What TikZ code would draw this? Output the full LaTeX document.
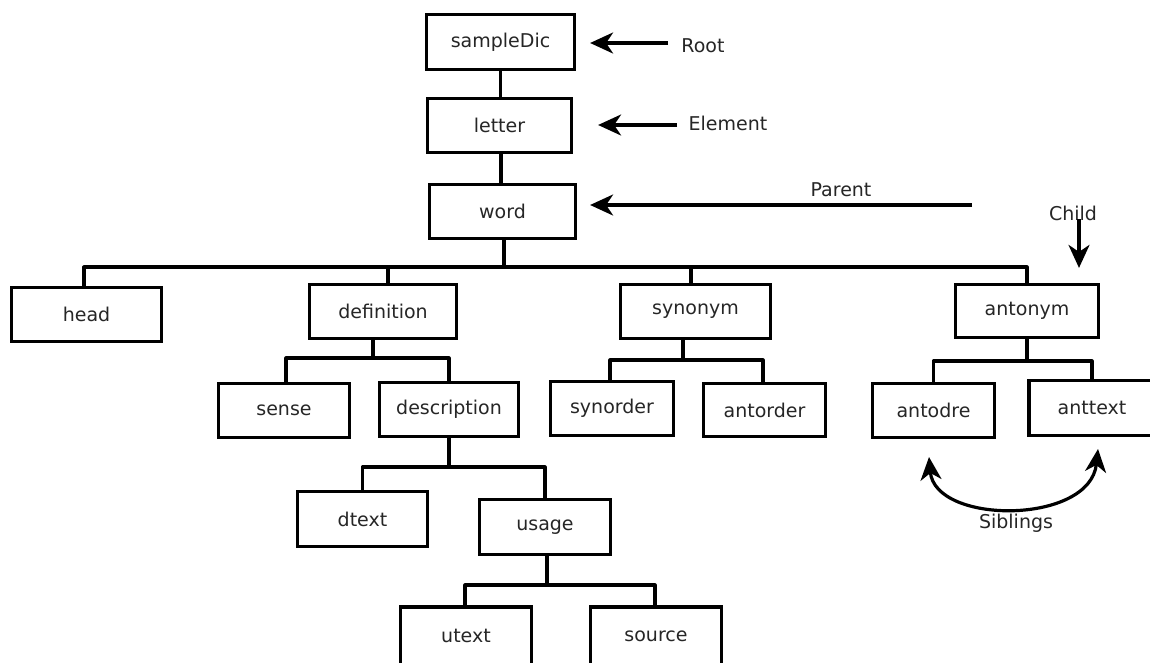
\documentclass[tikz,border=0pt]{standalone}
\usepackage{fontspec}
\setmainfont{DejaVu Sans}
\usetikzlibrary{arrows.meta}
\begin{document}
\begin{tikzpicture}[x=1pt,y=-1pt,
  every node/.style={font=\fontsize{19}{22}\selectfont, text=black!85},
  box/.style={draw=black, line width=3.2pt, inner sep=0pt, minimum height=54pt},
  link/.style={line width=3.2pt, line cap=round, line join=round},
  tip/.style={-{Stealth[length=23pt,width=21pt,inset=7pt]}},
  arr/.style={line width=3.2pt, tip},
  arrboth/.style={line width=3.2pt, {Stealth[length=23pt,width=21pt,inset=7pt]}-{Stealth[length=23pt,width=21pt,inset=7pt]}},
  lbl/.style={inner sep=1pt}]
\useasboundingbox (0,0) rectangle (1150,662);
\fill[white] (0,0) rectangle (1150,662);

% boxes
\node[box, minimum width=148pt, minimum height=55pt] (sampleDic) at (500.5,42) {sampleDic};
\node[box, minimum width=144pt] (letter) at (499.5,125.5) {letter};
\node[box, minimum width=146pt] (word) at (502.5,211.5) {word};
\node[box, minimum width=150pt] (head) at (86.5,314.5) {head};
\node[box, minimum width=147pt] (definition) at (383,311.5) {definition};
\node[box, minimum width=150pt] (synonym) at (695.5,311.5) {synonym};
\node[box, minimum width=143pt, minimum height=53pt] (antonym) at (1027,311) {antonym};
\node[box, minimum width=131pt] (sense) at (284,410.5) {sense};
\node[box, minimum width=139pt] (description) at (449,409.5) {description};
\node[box, minimum width=123pt] (synorder) at (612,408.5) {synorder};
\node[box, minimum width=122pt, minimum height=53pt] (antorder) at (764.5,410) {antorder};
\node[box, minimum width=122pt] (antodre) at (933.5,410.5) {antodre};
\node[box, minimum width=126pt, minimum height=55pt] (anttext) at (1092,408) {anttext};
\node[box, minimum width=130pt, minimum height=55pt] (dtext) at (362.5,519) {dtext};
\node[box, minimum width=131pt, minimum height=55pt] (usage) at (545,527) {usage};
\node[box, minimum width=131pt, minimum height=58pt] (utext) at (466,636) {utext};
\node[box, minimum width=131pt, minimum height=58pt] (source) at (656,636) {source};

% bus coordinates
\coordinate (b1) at (0,267);
\coordinate (b2) at (0,358);
\coordinate (b3) at (0,360);
\coordinate (b4) at (0,361);
\coordinate (b5) at (0,467);
\coordinate (b6) at (0,585);

% trunk
\draw[link] (sampleDic.south) -- (sampleDic.south |- letter.north);
\draw[link] ([xshift=1.5pt]letter.south) -- ([xshift=1.5pt]letter.south |- word.north);

% word children
\draw[link] ([xshift=1.5pt]word.south) -- ([xshift=1.5pt]word.south |- b1);
\draw[link] ([xshift=-2.5pt]head.north) -- ([xshift=-2.5pt]head.north |- b1) -- (antonym.north |- b1) -- (antonym.north);
\draw[link] ([xshift=5pt]definition.north) -- ([xshift=5pt]definition.north |- b1);
\draw[link] ([xshift=-4.5pt]synonym.north) -- ([xshift=-4.5pt]synonym.north |- b1);

% definition children
\draw[link] ([xshift=-10pt]definition.south) -- ([xshift=-10pt]definition.south |- b2);
\draw[link] ([xshift=2pt]sense.north) -- ([xshift=2pt]sense.north |- b2) -- (description.north |- b2) -- (description.north);

% synonym children
\draw[link] ([xshift=-12.5pt]synonym.south) -- ([xshift=-12.5pt]synonym.south |- b3);
\draw[link] ([xshift=-2pt]synorder.north) -- ([xshift=-2pt]synorder.north |- b3) -- ([xshift=-1.5pt]antorder.north |- b3) -- ([xshift=-1.5pt]antorder.north);

% antonym children
\draw[link] (antonym.south) -- (antonym.south |- b4);
\draw[link] (antodre.north) -- (antodre.north |- b4) -- (anttext.north |- b4) -- (anttext.north);

% description children
\draw[link] (description.south) -- (description.south |- b5);
\draw[link] (dtext.north) -- (dtext.north |- b5) -- (usage.north |- b5) -- (usage.north);

% usage children
\draw[link] ([xshift=2pt]usage.south) -- ([xshift=2pt]usage.south |- b6);
\draw[link] ([xshift=-1pt]utext.north) -- ([xshift=-1pt]utext.north |- b6) -- ([xshift=-1pt]source.north |- b6) -- ([xshift=-1pt]source.north);

% annotations
\node[lbl] (root) at (703,46) {Root};
\node[lbl] (element) at (728,123) {Element};
\node[lbl] (parent) at (841,190) {Parent};
\node[lbl] (child) at (1073,213) {Child};
\node[lbl] (siblings) at (1016,523) {Siblings};

\coordinate (rootS) at (668,43);
\coordinate (elemS) at (677,125);
\coordinate (parS) at (972,205);
\coordinate (childS) at (1079,219);
\coordinate (sibL) at (929,457);
\coordinate (sibR) at (1098,449);

\draw[arr, shorten >=14pt] (rootS) -- (rootS -| sampleDic.east);
\draw[arr, shorten >=25pt] (elemS) -- (elemS -| letter.east);
\draw[arr, shorten >=13pt] (parS) -- (parS -| word.east);
\draw[arr, shorten >=15pt] (childS) -- (childS |- antonym.north);
\draw[arrboth] (sibL) .. controls (935,525) and (1090,525) .. (sibR);
\end{tikzpicture}
\end{document}
